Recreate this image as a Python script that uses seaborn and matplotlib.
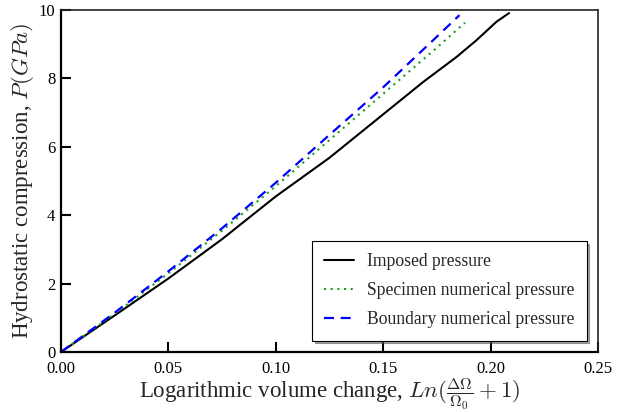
import pandas as pd
import matplotlib
matplotlib.use('Agg')
import matplotlib.pyplot as plt
import seaborn as sns

# Values
imposed_x = [0.0, 0.025, 0.05, 0.075, 0.10, 0.125, 0.15, 0.1687, 0.1842, 0.1935, 0.2028, 0.2086]
imposed_y = [0.0, 1.07, 2.15, 3.30, 4.55, 5.68, 6.95, 7.90, 8.63, 9.12, 9.66, 9.91]

specimen_x = [0.0, 0.025, 0.05, 0.075, 0.10, 0.125, 0.15, 0.175, 0.1881]
specimen_y = [0.0, 1.12, 2.30, 3.55, 4.85, 6.20, 7.55, 8.90, 9.63]

boundary_x = [0.0, 0.025, 0.05, 0.075, 0.10, 0.125, 0.15, 0.175, 0.1855]
boundary_y = [0.0, 1.15, 2.36, 3.62, 4.95, 6.35, 7.74, 9.22, 9.85]

labels = ['Imposed pressure', 'Specimen numerical pressure', 'Boundary numerical pressure']

sns.set_theme(style='ticks')
plt.rcParams['font.family'] = ['Liberation Serif', 'DejaVu Serif']
plt.rcParams['mathtext.fontset'] = 'cm'

fig = plt.figure(figsize=(6.18, 4.12), dpi=100)
ax = fig.add_axes([0.0987, 0.1456, 0.8689, 0.8301])

sns.lineplot(x=imposed_x, y=imposed_y, ax=ax, color='black', linewidth=1.5,
             label=labels[0])
sns.lineplot(x=specimen_x, y=specimen_y, ax=ax, color='#1a9e1a', linewidth=1.5,
             linestyle=(0, (1, 2.2)), label=labels[1])
sns.lineplot(x=boundary_x, y=boundary_y, ax=ax, color='blue', linewidth=1.6,
             linestyle=(0, (4.5, 3)), label=labels[2])

ax.set_xlim(0, 0.25)
ax.set_ylim(0, 10)
ax.set_xticks([0.0, 0.05, 0.10, 0.15, 0.20, 0.25])
ax.set_xticklabels(['0.00', '0.05', '0.10', '0.15', '0.20', '0.25'])
ax.set_yticks([0, 2, 4, 6, 8, 10])

ax.tick_params(direction='in', length=7.5, width=1.5, labelsize=12,
               colors='black')
ax.tick_params(axis='x', pad=6.5)
ax.tick_params(axis='y', pad=4)
for side in ['left', 'bottom']:
    ax.spines[side].set_linewidth(1.6)
    ax.spines[side].set_color('black')
for side in ['top', 'right']:
    ax.spines[side].set_visible(True)
    ax.spines[side].set_linewidth(1.2)
    ax.spines[side].set_color('#222222')

ax.set_xlabel(r'Logarithmic volume change, $Ln(\frac{\Delta\Omega}{\Omega_0}+1)$',
              fontsize=16.5, labelpad=-1)
ax.set_ylabel(r'Hydrostatic compression, $P(GPa)$', fontsize=16.5, labelpad=2)

leg = ax.legend(loc='lower right', fontsize=12.7, frameon=True, fancybox=False,
                shadow=True, edgecolor='black', framealpha=1, borderaxespad=0.65,
                labelspacing=0.68, handlelength=1.7, handletextpad=0.7,
                borderpad=0.7)
leg.get_frame().set_linewidth(0.8)

fig.savefig('out.png', dpi=100)
